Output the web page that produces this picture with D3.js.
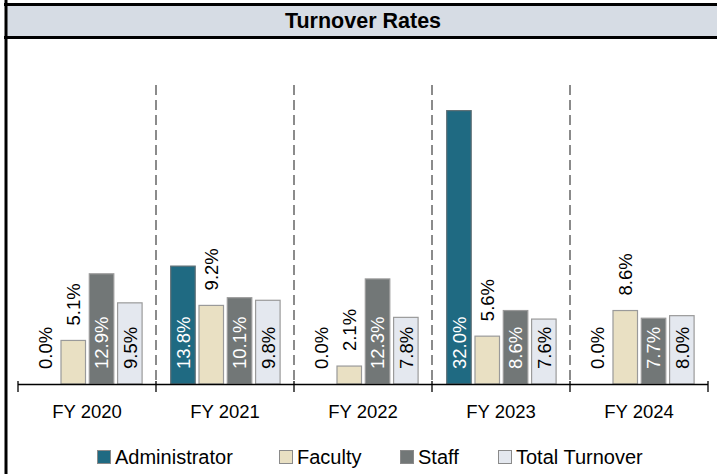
<!DOCTYPE html>
<html>
<head>
<meta charset="utf-8">
<script src="https://cdn.jsdelivr.net/npm/d3@7"></script>
<style>
  body { margin: 0; background: #fff; }
  svg { display: block; font-family: "Liberation Sans", Arial, sans-serif; }
</style>
</head>
<body>
<div id="chart"></div>
<script>
const years = ["FY 2020", "FY 2021", "FY 2022", "FY 2023", "FY 2024"];
const seriesNames = ["Administrator", "Faculty", "Staff", "Total Turnover"];
const administrator = [0.0, 13.8, 0.0, 32.0, 0.0];
const faculty = [5.1, 9.2, 2.1, 5.6, 8.6];
const staff = [12.9, 10.1, 12.3, 8.6, 7.7];
const totalTurnover = [9.5, 9.8, 7.8, 7.6, 8.0];

const W = 717, H = 474;
const colors = ["#1f6a82", "#e9e0c3", "#727777", "#e4e8ef"];
const labelColors = ["#fff", "#000", "#fff", "#000"];

const series = [administrator, faculty, staff, totalTurnover];
const rows = years.map((y, i) => ({year: y, values: series.map((s, k) => ({key: seriesNames[k], k, v: s[i]}))}));

const svg = d3.select("#chart").append("svg").attr("width", W).attr("height", H);

// title band + frame
svg.append("rect").attr("x", 6).attr("y", 5).attr("width", W - 6).attr("height", 32).attr("fill", "#d6dce4");
svg.append("line").attr("x1", 4).attr("x2", W).attr("y1", 4.5).attr("y2", 4.5).attr("stroke", "#000").attr("stroke-width", 3);
svg.append("line").attr("x1", 4).attr("x2", W).attr("y1", 37.5).attr("y2", 37.5).attr("stroke", "#000").attr("stroke-width", 3);
svg.append("line").attr("x1", 6).attr("x2", 6).attr("y1", 0).attr("y2", H).attr("stroke", "#000").attr("stroke-width", 3);
svg.append("text").attr("x", 363).attr("y", 28).attr("text-anchor", "middle")
  .attr("font-size", 21.5).attr("font-weight", "bold").attr("fill", "#000").text("Turnover Rates");

const x0 = d3.scaleBand().domain(years).range([18, 708]).padding(0);
const x1 = d3.scaleBand().domain(seriesNames).range([14.7, 124.1]).paddingInner(0.134).paddingOuter(0);
const y = d3.scaleLinear().domain([0, 35]).range([384, 85]);

// dashed separators
svg.append("g").selectAll("line").data(years.slice(1)).join("line")
  .attr("x1", d => x0(d)).attr("x2", d => x0(d))
  .attr("y1", y(35)).attr("y2", y(0))
  .attr("stroke", "#6f6f6f").attr("stroke-width", 1.6).attr("stroke-dasharray", "10,5");

const groups = svg.append("g").selectAll("g").data(rows).join("g")
  .attr("transform", d => `translate(${x0(d.year)},0)`);

groups.selectAll("rect").data(d => d.values.filter(v => v.v > 0)).join("rect")
  .attr("x", d => x1(d.key)).attr("width", x1.bandwidth())
  .attr("y", d => y(d.v)).attr("height", d => y(0) - y(d.v))
  .attr("fill", d => colors[d.k])
  .attr("stroke", d => d.k === 0 ? "#5f6f75" : "#9a9a9a").attr("stroke-width", 1.2);

// labels: faculty above the bar, the rest at the base
groups.selectAll("text").data(d => d.values).join("text")
  .attr("transform", d => {
    const cx = x1(d.key) + x1.bandwidth() / 2;
    const ty = d.k === 1 ? y(d.v) - 15 : y(0) - 15;
    return `translate(${cx},${ty}) rotate(-90)`;
  })
  .attr("dy", "0.36em")
  .attr("font-size", 18.5)
  .attr("fill", d => d.v === 0 ? "#000" : labelColors[d.k])
  .text(d => d.v.toFixed(1) + "%");

// axis
const axis = svg.append("g");
axis.append("line").attr("x1", 18).attr("x2", 708).attr("y1", 384.5).attr("y2", 384.5)
  .attr("stroke", "#000").attr("stroke-width", 1.3);
axis.selectAll(".tick").data(years.concat(["end"])).join("line")
  .attr("x1", (d, i) => i < years.length ? x0(d) : x0.range()[1])
  .attr("x2", (d, i) => i < years.length ? x0(d) : x0.range()[1])
  .attr("y1", 381).attr("y2", 392).attr("stroke", "#000").attr("stroke-width", 1.3);
axis.selectAll("text").data(years).join("text")
  .attr("x", d => x0(d) + x0.bandwidth() / 2).attr("y", 418)
  .attr("text-anchor", "middle").attr("font-size", 18.5).attr("fill", "#000").text(d => d);

// legend
const legendX = [97, 279, 400, 498];
const legend = svg.append("g").selectAll("g").data(seriesNames).join("g")
  .attr("transform", (d, i) => `translate(${legendX[i]},450)`);
legend.append("rect").attr("x", 0.5).attr("y", 0.5).attr("width", 13).attr("height", 13)
  .attr("fill", (d, i) => colors[i]).attr("stroke", "#8a8a8a").attr("stroke-width", 1);
legend.append("text").attr("x", 18).attr("y", 13.5).attr("font-size", 20).attr("fill", "#000").text(d => d);
</script>
</body>
</html>
